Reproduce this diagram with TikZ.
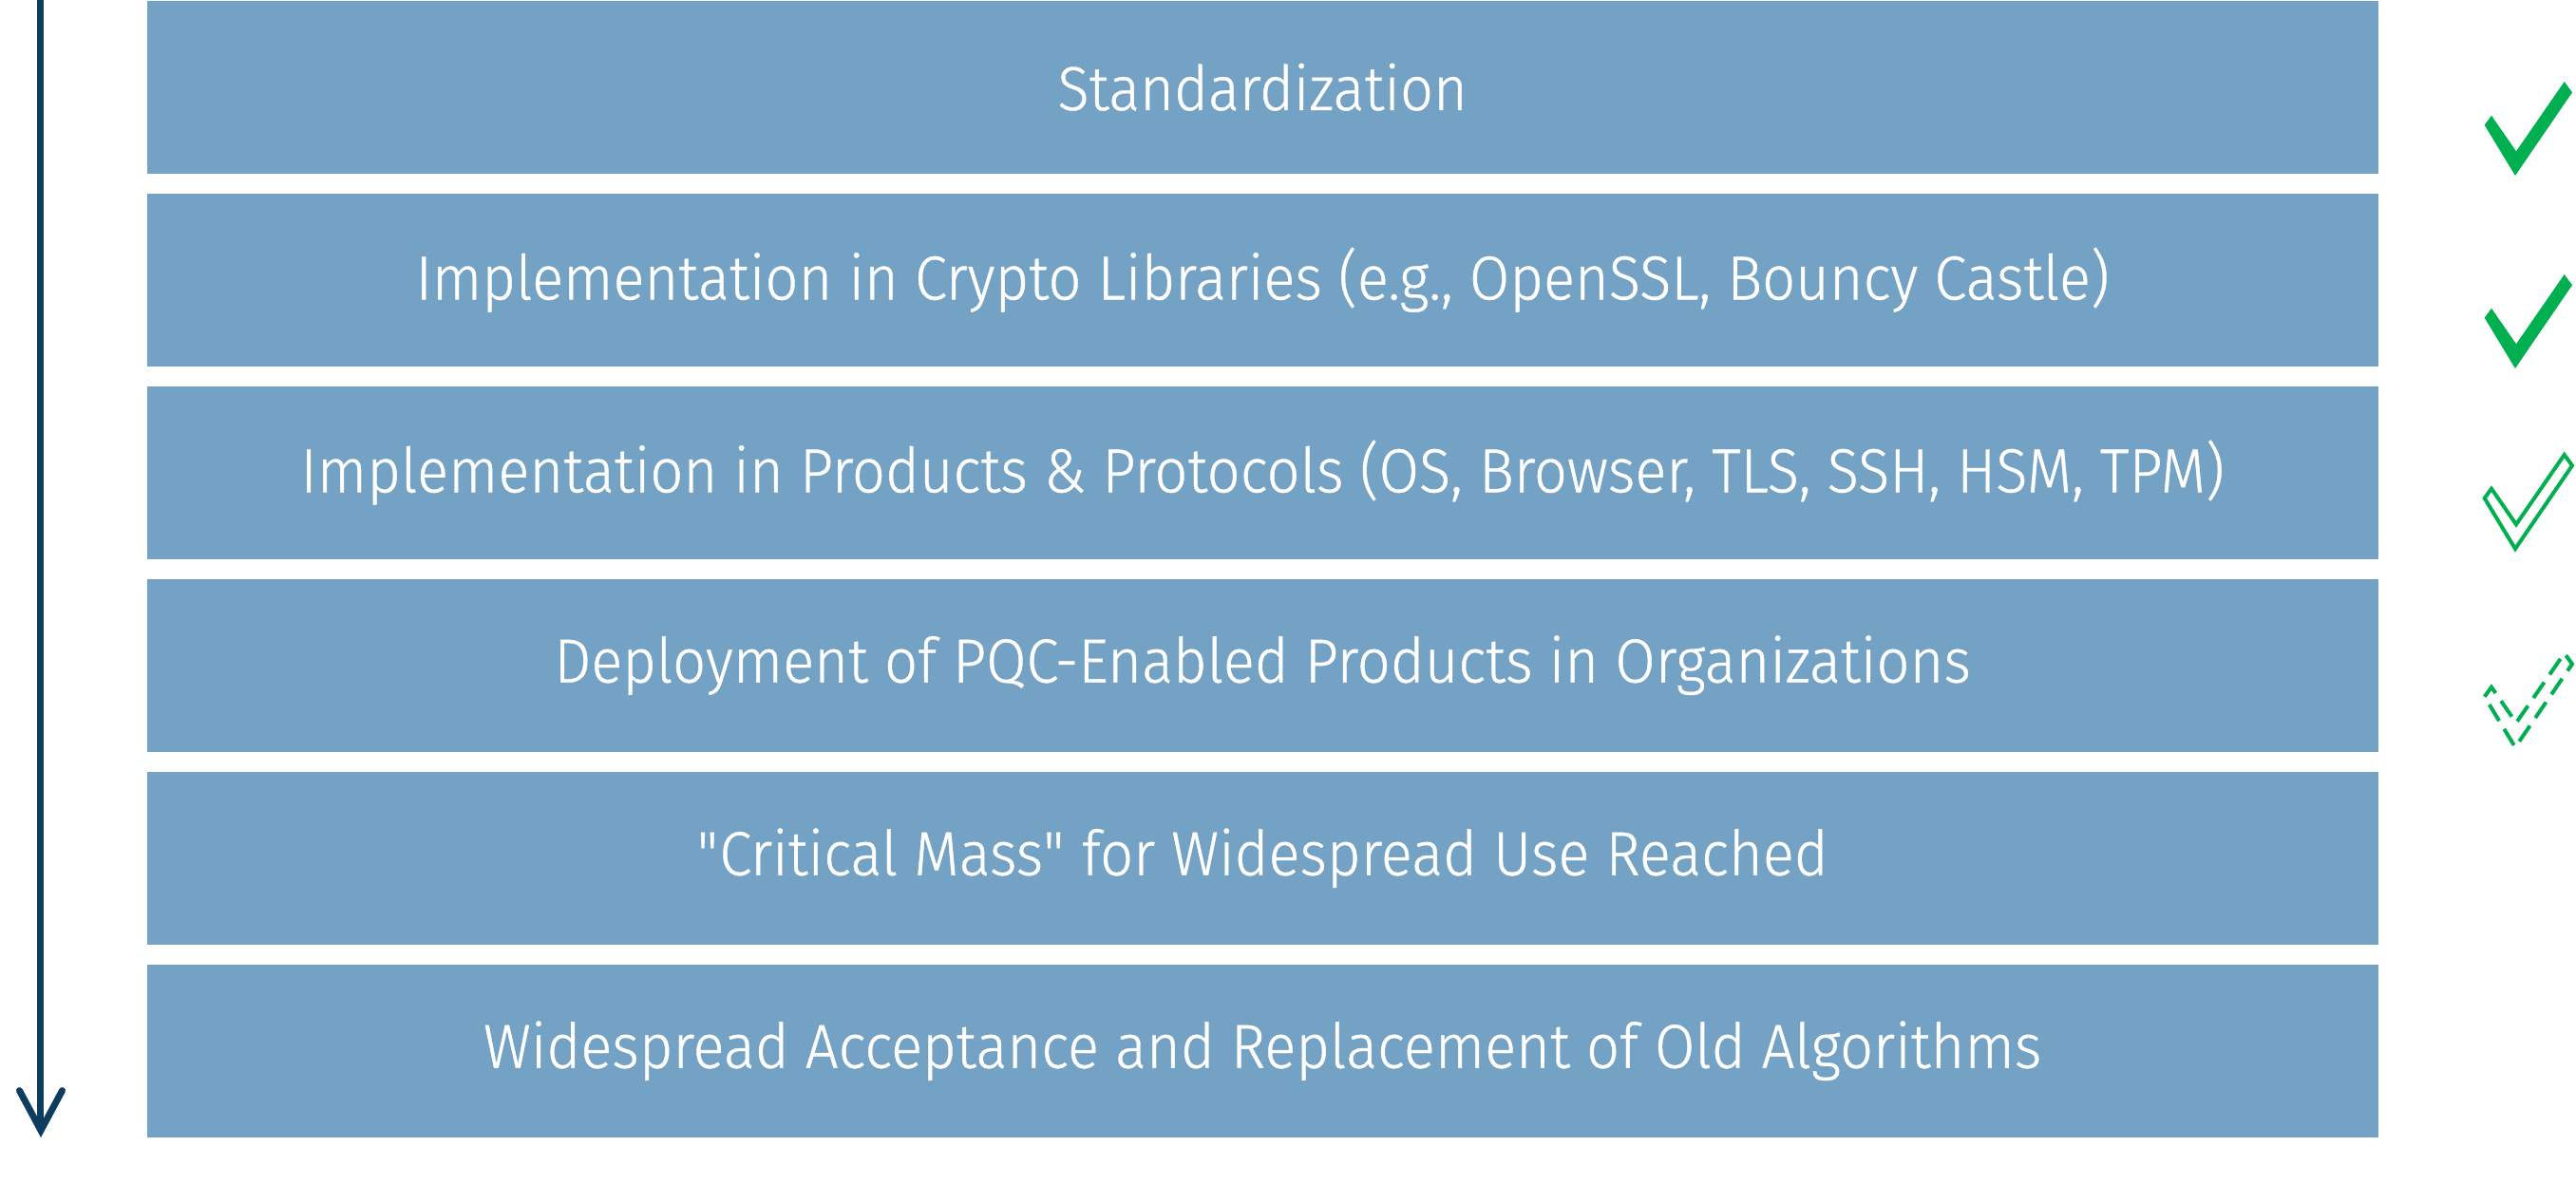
\documentclass[tikz,border=0pt]{standalone}
\usepackage{fontspec}
\setmainfont{Fira Sans}[UprightFont=* Light, FakeStretch=0.94, FakeBold=0.6]
\usetikzlibrary{arrows.meta, positioning}

\definecolor{stagecolor}{RGB}{116,162,196}
\definecolor{arrowcolor}{RGB}{12,61,94}
\definecolor{tickcolor}{RGB}{0,176,80}

\tikzset{
	stagebox/.style={rectangle, fill=stagecolor, text=white, minimum width=23.49cm, minimum height=1.82cm, inner sep=0pt, font=\fontsize{18.6}{22}\selectfont},
	pics/tick/.style={code={\path [#1] (-0.323,0.533) -- (-0.25,0.633) -- (0.01,0.257) -- (0.517,0.99) -- (0.6,0.877) -- (0,0) -- cycle;}}
}

\begin{document}
\begin{tikzpicture}
	\useasboundingbox (0,0) rectangle (27.12,-12.46);
	
	\node [stagebox, anchor=north west] (stage1) at (1.54,0) {Standardization};
	\node [stagebox, below=0.196cm of stage1] (stage2) {Implementation in Crypto Libraries (e.g., OpenSSL, Bouncy Castle)};
	\node [stagebox, below=0.196cm of stage2] (stage3) {Implementation in Products \& Protocols (OS, Browser, TLS, SSH, HSM, TPM)};
	\node [stagebox, below=0.196cm of stage3] (stage4) {Deployment of PQC-Enabled Products in Organizations};
	\node [stagebox, below=0.196cm of stage4] (stage5) {\textquotedbl Critical Mass\textquotedbl{} for Widespread Use Reached};
	\node [stagebox, below=0.196cm of stage5] (stage6) {Widespread Acceptance and Replacement of Old Algorithms};
	
	\coordinate (start) at (0.43,0);
	\coordinate (end) at (0.43,-11.98);
	\draw [arrowcolor, line width=0.07cm, -{Straight Barb[length=0.42cm, width=0.45cm, line cap=round]}] (start) -- (end);
	
	\coordinate (tick1) at (26.48,-1.85);
	\coordinate (tick2) at (26.48,-3.88);
	\coordinate (tick3) at (26.48,-5.78);
	\coordinate (tick4) at (26.48,-7.87);
	\pic at (tick1) {tick={fill=tickcolor}};
	\pic at (tick2) {tick={fill=tickcolor}};
	\pic at (tick3) {tick={draw=tickcolor, line width=0.04cm}};
	\pic at (tick4) {tick={draw=tickcolor, line width=0.04cm, dash pattern=on 0.2cm off 0.1cm}};
\end{tikzpicture}
\end{document}
